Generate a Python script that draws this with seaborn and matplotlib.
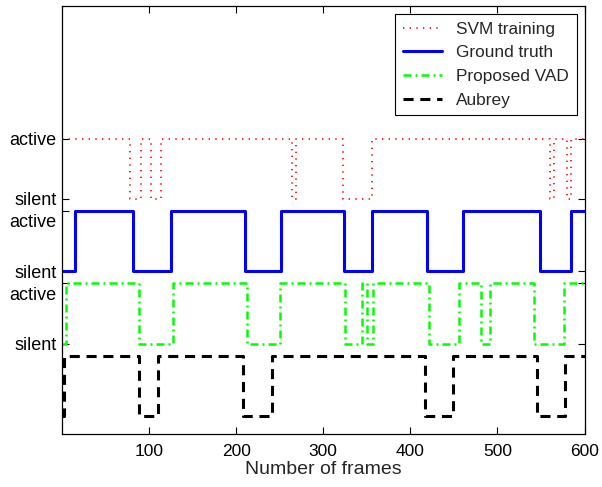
import numpy as np
import pandas as pd
import matplotlib
matplotlib.use("Agg")
import matplotlib.pyplot as plt
import matplotlib.transforms as mtransforms
import seaborn as sns

# Frame indices where each decision changes, and the state (1 = active, 0 = silent)
# held from that frame until the next change.
svm_frames = [0, 78, 91, 102, 114, 264, 269, 323, 356, 560, 565, 580, 584, 600]
svm_states = [1, 0, 1, 0, 1, 0, 1, 0, 1, 0, 1, 0, 1]

truth_frames = [0, 15, 82, 125, 210, 251, 324, 356, 419, 460, 549, 585, 600]
truth_states = [0, 1, 0, 1, 0, 1, 0, 1, 0, 1, 0, 1]

vad_frames = [0, 5, 88, 127, 212, 250, 325, 344, 350, 357, 421, 456, 481, 491,
              542, 576, 600]
vad_states = [0, 1, 0, 1, 0, 1, 0, 1, 0, 1, 0, 1, 0, 1, 0, 1]

aubrey_frames = [0, 2, 88, 110, 208, 241, 417, 449, 546, 578, 600]
aubrey_states = [0, 1, 0, 1, 0, 1, 0, 1, 0, 1]

series_names = ["SVM training", "Ground truth", "Proposed VAD", "Aubrey"]
tick_words = ["silent", "active"]
frame_ticks = [100, 200, 300, 400, 500, 600]

sns.set_style("ticks")
plt.rcParams["font.family"] = ["Liberation Sans", "DejaVu Sans"]

fig = plt.figure(figsize=(6.02, 4.87), dpi=100)
ax = fig.add_axes([62 / 602, 1 - 434 / 487, (584.5 - 62) / 602, (434 - 6) / 487])

# vertical spacing between stacked traces
step = 1.2
styles = [
    dict(color="#ff0000", lw=1.2, linestyle=(0, (0.8, 3.2))),
    dict(color="#0000ff", lw=2.2, linestyle="-"),
    dict(color="#00ff00", lw=1.8, linestyle=(0, (3.2, 1.6, 0.8, 1.6))),
    dict(color="black", lw=2.2, linestyle=(0, (3.3, 2.2))),
]
data = [(svm_frames, svm_states), (truth_frames, truth_states),
        (vad_frames, vad_states), (aubrey_frames, aubrey_states)]

for i, (name, (frames, states), st) in enumerate(zip(series_names, data, styles)):
    base = step * (len(series_names) - 1 - i)
    df = pd.DataFrame({
        "frame": frames,
        "level": np.r_[states, states[-1]] + base,
    })
    sns.lineplot(data=df, x="frame", y="level", ax=ax, estimator=None,
                 sort=False, drawstyle="steps-post", label=name, **st)

ax.set_xlim(0, 600)
ax.set_ylim(-0.3, 6.8)

ytick_pos = []
ytick_lab = []
for i in range(3):
    base = step * (len(series_names) - 1 - i)
    ytick_pos += [base, base + 1]
    ytick_lab += tick_words
ax.set_yticks(ytick_pos)
ax.set_yticklabels(ytick_lab)
ax.set_xticks(frame_ticks)
ax.set_xticklabels([str(v) for v in frame_ticks])

ax.tick_params(axis="both", direction="in", length=5, width=0.8,
               top=True, right=True, colors="black")
ax.tick_params(axis="x", labelsize=12.5, pad=7)
ax.tick_params(axis="y", labelsize=13, pad=4)
for sp in ax.spines.values():
    sp.set_visible(True)
    sp.set_color("black")
    sp.set_linewidth(0.9)

# "active" labels that sit just under a "silent" label are nudged down
shift_down = mtransforms.ScaledTranslation(0, -7 / 72, fig.dpi_scale_trans)
for pos, lab in zip(ax.get_yticks(), ax.get_yticklabels()):
    if lab.get_text() == "active" and pos < step * 3:
        lab.set_transform(lab.get_transform() + shift_down)

ax.set_xlabel("Number of frames", fontsize=14, labelpad=2)
ax.set_ylabel("")

leg = ax.legend(loc="upper right", fontsize=12.4, frameon=True, fancybox=False,
                framealpha=1, edgecolor="black", handlelength=2.3,
                labelspacing=0.5, borderaxespad=0.45, borderpad=0.45,
                handletextpad=0.8)
leg.get_frame().set_linewidth(0.8)

fig.savefig("out.png", dpi=100)
